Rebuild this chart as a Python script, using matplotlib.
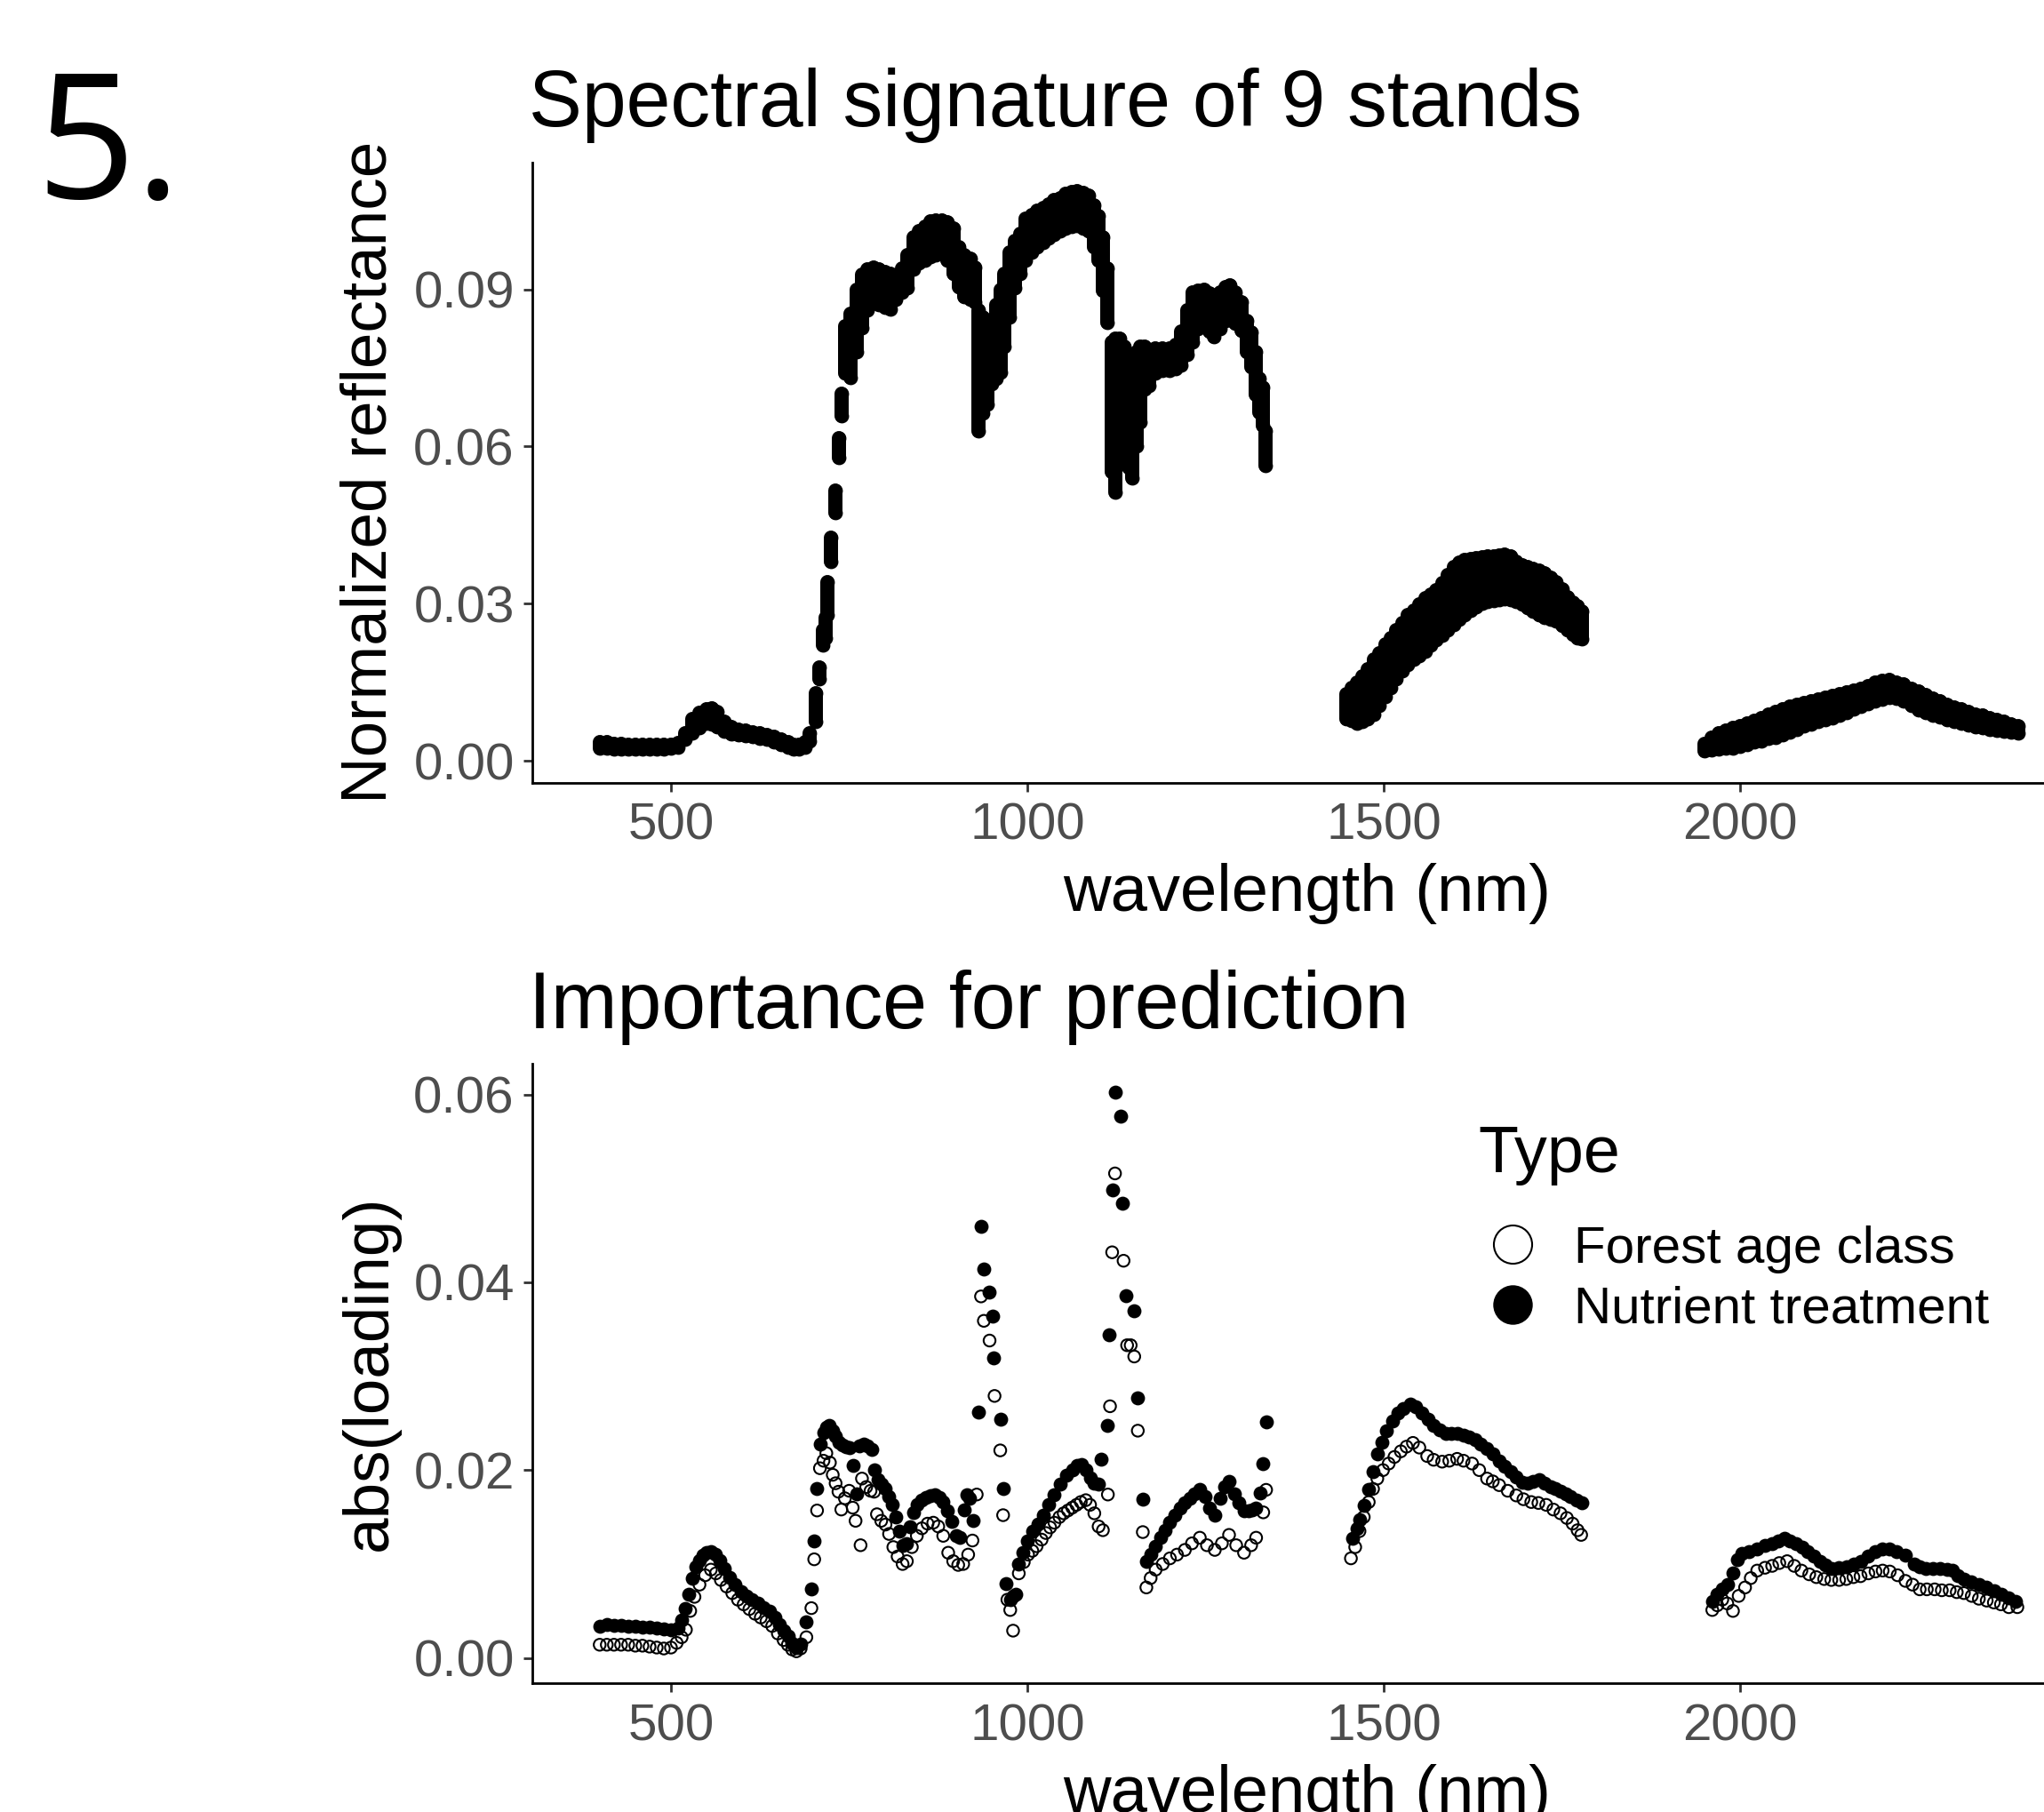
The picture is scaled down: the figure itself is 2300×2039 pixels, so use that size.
import matplotlib
matplotlib.use("Agg")
import matplotlib.pyplot as plt
from matplotlib.lines import Line2D

plt.rcParams['font.family'] = ['Liberation Sans', 'DejaVu Sans']

W, H = 2300, 2039

# ---------------------------------------------------------------------------
# Top panel: reflectance range (min / max over the 9 stands) per band
# ---------------------------------------------------------------------------
refl_wl_vnir = [400, 410, 420, 430, 440, 450, 460, 470, 480, 490,
                500, 510, 520, 530, 540, 550, 557, 565, 575, 585,
                595, 605, 615, 625, 635, 645, 655, 665, 672, 680,
                688, 695, 703, 708, 713, 717, 720, 724, 731, 736,
                739, 745, 752, 760, 768, 776, 784, 792, 800, 808,
                816, 824, 832, 840, 848, 856, 864, 872, 880, 888,
                896, 904, 912, 920, 926, 932, 938, 944, 950, 956,
                962, 968, 975, 982, 990, 998, 1006, 1014, 1022, 1030,
                1038, 1046, 1054, 1062, 1070, 1078, 1086, 1094, 1100, 1106,
                1112, 1118, 1124, 1130, 1136, 1142, 1147, 1153, 1158, 1164,
                1171, 1180, 1190, 1200, 1208, 1216, 1224, 1232, 1240, 1248,
                1256, 1262, 1270, 1278, 1284, 1292, 1300, 1308, 1314, 1320,
                1326, 1330, 1334]
refl_hi_vnir = [.0036, .0035, .0033, .0032, .0031, .0031, .0030, .0030, .0030, .0030,
                .0031, .0034, .0052, .0080, .0092, .0098, .0100, .0094, .0075, .0064,
                .0060, .0058, .0055, .0052, .0050, .0046, .0040, .0035, .0031, .0030,
                .0036, .0052, .0129, .0178, .0250, .0273, .0341, .0426, .0516, .0616,
                .0701, .0830, .0853, .0900, .0929, .0938, .0941, .0938, .0934, .0930,
                .0918, .0940, .0965, .0999, .1012, .1020, .1030, .1032, .1031, .1028,
                .1017, .0980, .0965, .0958, .0941, .0860, .0847, .0830, .0840, .0870,
                .0900, .0930, .0970, .0993, .1006, .1035, .1042, .1050, .1056, .1062,
                .1070, .1075, .1082, .1086, .1087, .1084, .1080, .1060, .1040, .1000,
                .0940, .0800, .0806, .0806, .0790, .0775, .0765, .0780, .0790, .0790,
                .0783, .0788, .0788, .0788, .0795, .0820, .0860, .0894, .0898, .0900,
                .0892, .0888, .0895, .0905, .0908, .0895, .0876, .0840, .0818, .0780,
                .0730, .0712, .0630]
refl_lo_vnir = [.0024, .0023, .0022, .0022, .0022, .0022, .0022, .0022, .0022, .0022,
                .0023, .0026, .0040, .0052, .0063, .0071, .0070, .0064, .0056, .0051,
                .0049, .0047, .0046, .0043, .0040, .0036, .0031, .0026, .0022, .0022,
                .0026, .0038, .0075, .0156, .0221, .0235, .0278, .0380, .0473, .0579,
                .0658, .0740, .0731, .0780, .0827, .0860, .0874, .0870, .0865, .0862,
                .0880, .0895, .0903, .0938, .0950, .0955, .0962, .0966, .0967, .0955,
                .0930, .0905, .0885, .0880, .0875, .0630, .0663, .0680, .0720, .0730,
                .0741, .0790, .0846, .0903, .0930, .0955, .0970, .0980, .0990, .0998,
                .1005, .1011, .1016, .1020, .1021, .1017, .1012, .0980, .0955, .0897,
                .0837, .0552, .0512, .0600, .0634, .0560, .0540, .0600, .0646, .0710,
                .0716, .0740, .0745, .0745, .0748, .0755, .0775, .0800, .0825, .0839,
                .0820, .0809, .0825, .0840, .0842, .0835, .0821, .0780, .0751, .0700,
                .0665, .0640, .0564]

refl_wl_swir1 = [1447, 1455, 1462, 1470, 1478, 1486, 1494, 1502, 1510, 1518,
                 1526, 1534, 1542, 1550, 1558, 1566, 1574, 1582, 1590, 1598,
                 1606, 1614, 1622, 1630, 1638, 1646, 1654, 1662, 1670, 1678,
                 1686, 1694, 1702, 1710, 1718, 1726, 1734, 1742, 1750, 1758,
                 1766, 1772, 1778]
refl_hi_swir1 = [.0128, .0140, .0150, .0162, .0175, .0193, .0205, .0222, .0235, .0250,
                 .0263, .0278, .0287, .0298, .0310, .0318, .0325, .0340, .0355, .0370,
                 .0378, .0383, .0386, .0387, .0389, .0390, .0391, .0392, .0393, .0390,
                 .0380, .0373, .0370, .0367, .0364, .0358, .0350, .0341, .0328, .0313,
                 .0302, .0296, .0285]
refl_lo_swir1 = [.0080, .0076, .0072, .0075, .0080, .0088, .0105, .0122, .0140, .0157,
                 .0171, .0183, .0194, .0201, .0208, .0220, .0230, .0239, .0250, .0260,
                 .0270, .0279, .0286, .0293, .0300, .0304, .0306, .0308, .0309, .0308,
                 .0304, .0299, .0292, .0285, .0278, .0274, .0270, .0266, .0258, .0250,
                 .0241, .0234, .0233]

refl_wl_swir2 = [1950, 1960, 1970, 1980, 1990, 2000, 2010, 2020, 2030, 2040,
                 2050, 2060, 2070, 2080, 2090, 2100, 2110, 2120, 2130, 2140,
                 2150, 2160, 2170, 2180, 2190, 2200, 2210, 2220, 2230, 2240,
                 2250, 2260, 2270, 2280, 2290, 2300, 2310, 2320, 2330, 2340,
                 2350, 2360, 2370, 2380, 2390]
refl_hi_swir2 = [.0033, .0045, .0052, .0058, .0062, .0066, .0071, .0076, .0082, .0089,
                 .0094, .0099, .0103, .0107, .0110, .0113, .0117, .0121, .0124, .0128,
                 .0131, .0134, .0138, .0143, .0149, .0152, .0155, .0150, .0146, .0138,
                 .0132, .0125, .0118, .0113, .0107, .0102, .0098, .0094, .0089, .0086,
                 .0082, .0078, .0074, .0070, .0067]
refl_lo_swir2 = [.0018, .0020, .0022, .0023, .0024, .0028, .0031, .0035, .0038, .0042,
                 .0045, .0050, .0055, .0060, .0066, .0070, .0074, .0078, .0081, .0086,
                 .0092, .0098, .0103, .0108, .0114, .0117, .0120, .0118, .0114, .0105,
                 .0097, .0092, .0086, .0083, .0078, .0075, .0072, .0068, .0064, .0062,
                 .0060, .0058, .0056, .0054, .0052]

# ---------------------------------------------------------------------------
# Bottom panel: abs(loading) per band for the two models
# ---------------------------------------------------------------------------
nut_wl = [400, 410, 420, 430, 440, 450, 460, 470, 480, 490,
          500, 510, 515, 520, 525, 530, 535, 540, 545, 550,
          556, 562, 568, 575, 582, 590, 598, 606, 614, 622,
          630, 639, 646, 652, 658, 664, 670, 676, 682, 689,
          697, 701, 705, 709, 714, 718, 722, 727, 731, 736,
          741, 746, 751, 756, 760, 764, 770, 776, 782, 786,
          790, 795, 800, 805, 810, 815, 820, 826, 831, 836,
          840, 846, 852, 858, 864, 870, 876, 882, 888, 894,
          900, 905, 911, 915, 919, 924, 931, 935, 939, 947,
          951, 953, 962, 966, 970, 976, 980, 984, 988, 994,
          1000, 1008, 1015, 1022, 1030, 1038, 1046, 1055, 1063, 1070,
          1076, 1082, 1088, 1094, 1100, 1103, 1112, 1115, 1120, 1123,
          1131, 1133, 1138, 1149, 1155, 1162, 1167, 1173, 1180, 1187,
          1193, 1200, 1207, 1214, 1221, 1228, 1235, 1242, 1249, 1256,
          1263, 1270, 1277, 1283, 1290, 1297, 1304, 1310, 1316, 1321,
          1327, 1330, 1335, 1456, 1462, 1466, 1472, 1479, 1485, 1491,
          1498, 1504, 1512, 1520, 1528, 1537, 1545, 1554, 1562, 1570,
          1578, 1587, 1595, 1603, 1612, 1620, 1628, 1636, 1645, 1653,
          1662, 1670, 1678, 1686, 1694, 1702, 1710, 1718, 1726, 1734,
          1741, 1748, 1755, 1762, 1770, 1778, 1961, 1968, 1975, 1982,
          1990, 1996, 2003, 2012, 2024, 2035, 2045, 2053, 2062, 2070,
          2078, 2087, 2095, 2103, 2112, 2120, 2128, 2138, 2149, 2159,
          2169, 2180, 2190, 2200, 2210, 2220, 2232, 2244, 2252, 2261,
          2271, 2281, 2290, 2298, 2306, 2314, 2324, 2335, 2345, 2356,
          2366, 2377, 2386]
nut_load = [.0034, .0036, .0035, .0035, .0034, .0034, .0033, .0033, .0032, .0031,
            .0030, .0032, .0040, .0053, .0068, .0085, .0097, .0104, .0109, .0112,
            .0113, .0110, .0104, .0095, .0086, .0078, .0071, .0066, .0062, .0058,
            .0054, .0050, .0043, .0036, .0029, .0023, .0016, .0011, .0015, .0038,
            .0073, .0125, .0180, .0228, .0240, .0246, .0248, .0242, .0236, .0230,
            .0227, .0225, .0224, .0205, .0175, .0226, .0228, .0226, .0222, .0200,
            .0190, .0185, .0180, .0172, .0163, .0150, .0135, .0120, .0122, .0140,
            .0155, .0163, .0168, .0171, .0173, .0174, .0171, .0166, .0157, .0145,
            .0130, .0128, .0158, .0174, .0170, .0146, .0262, .0460, .0414, .0390,
            .0364, .0320, .0254, .0180, .0079, .0062, .0066, .0068, .0100, .0112,
            .0125, .0135, .0143, .0152, .0163, .0174, .0185, .0195, .0200, .0205,
            .0206, .0200, .0192, .0186, .0185, .0212, .0248, .0344, .0498, .0603,
            .0577, .0484, .0386, .0370, .0277, .0169, .0103, .0110, .0119, .0128,
            .0136, .0144, .0152, .0160, .0165, .0170, .0175, .0179, .0172, .0160,
            .0152, .0170, .0182, .0188, .0175, .0165, .0157, .0157, .0158, .0160,
            .0176, .0207, .0251, .0127, .0138, .0147, .0162, .0179, .0198, .0217,
            .0230, .0242, .0252, .0261, .0266, .0270, .0267, .0261, .0254, .0248,
            .0243, .0239, .0239, .0239, .0237, .0235, .0232, .0228, .0223, .0217,
            .0210, .0204, .0198, .0193, .0187, .0186, .0188, .0190, .0186, .0182,
            .0180, .0178, .0175, .0172, .0168, .0165, .0060, .0068, .0073, .0078,
            .0090, .0105, .0111, .0113, .0116, .0120, .0122, .0125, .0127, .0125,
            .0122, .0118, .0113, .0108, .0103, .0099, .0095, .0096, .0097, .0100,
            .0103, .0108, .0113, .0116, .0116, .0113, .0109, .0100, .0097, .0095,
            .0095, .0095, .0094, .0093, .0088, .0084, .0081, .0078, .0075, .0072,
            .0068, .0064, .0060]

age_wl = [400, 410, 420, 430, 440, 450, 460, 470, 480, 490,
          500, 508, 515, 521, 527, 533, 540, 548, 556, 563,
          570, 578, 586, 594, 602, 610, 618, 626, 634, 642,
          650, 658, 664, 670, 676, 682, 690, 697, 701, 705,
          709, 714, 718, 723, 727, 731, 735, 739, 744, 750,
          755, 759, 766, 768, 774, 780, 785, 789, 795, 801,
          806, 812, 818, 825, 831, 838, 845, 852, 860, 868,
          875, 882, 889, 896, 903, 910, 917, 923, 929, 935,
          939, 947, 954, 962, 966, 972, 976, 980, 988, 995,
          1001, 1007, 1013, 1020, 1026, 1032, 1038, 1045, 1051, 1057,
          1063, 1069, 1075, 1082, 1088, 1094, 1100, 1106, 1113, 1116,
          1119, 1123, 1135, 1140, 1145, 1150, 1155, 1162, 1167, 1173,
          1180, 1190, 1200, 1210, 1221, 1231, 1242, 1252, 1263, 1273,
          1283, 1293, 1304, 1314, 1321, 1331, 1335, 1454, 1460, 1466,
          1472, 1479, 1485, 1491, 1499, 1507, 1515, 1524, 1532, 1541,
          1550, 1561, 1570, 1582, 1592, 1603, 1612, 1624, 1634, 1645,
          1653, 1662, 1674, 1686, 1696, 1707, 1717, 1728, 1738, 1748,
          1757, 1765, 1772, 1777, 1961, 1968, 1975, 1982, 1990, 1998,
          2007, 2015, 2024, 2035, 2045, 2055, 2066, 2076, 2086, 2097,
          2107, 2118, 2128, 2139, 2149, 2159, 2169, 2180, 2190, 2200,
          2210, 2221, 2232, 2242, 2252, 2262, 2273, 2283, 2294, 2304,
          2314, 2325, 2335, 2346, 2356, 2366, 2377, 2389]
age_load = [.0014, .0014, .0014, .0014, .0014, .0013, .0013, .0012, .0011, .0010,
            .0011, .0016, .0022, .0030, .0050, .0065, .0078, .0088, .0094, .0090,
            .0083, .0076, .0069, .0062, .0057, .0052, .0047, .0043, .0039, .0034,
            .0026, .0019, .0014, .0009, .0007, .0010, .0022, .0053, .0105, .0157,
            .0202, .0210, .0218, .0208, .0195, .0186, .0177, .0158, .0170, .0178,
            .0160, .0146, .0120, .0191, .0182, .0178, .0177, .0153, .0146, .0142,
            .0132, .0118, .0108, .0100, .0103, .0118, .0130, .0138, .0143, .0144,
            .0140, .0130, .0112, .0103, .0099, .0100, .0110, .0125, .0174, .0385,
            .0359, .0338, .0279, .0221, .0152, .0062, .0051, .0029, .0090, .0102,
            .0110, .0114, .0119, .0126, .0133, .0139, .0144, .0150, .0154, .0157,
            .0160, .0163, .0166, .0168, .0163, .0154, .0140, .0136, .0174, .0268,
            .0432, .0516, .0423, .0333, .0333, .0321, .0242, .0134, .0075, .0085,
            .0094, .0100, .0106, .0110, .0115, .0122, .0128, .0120, .0115, .0122,
            .0131, .0120, .0112, .0120, .0128, .0155, .0179, .0106, .0118, .0135,
            .0150, .0166, .0180, .0191, .0200, .0207, .0214, .0220, .0225, .0229,
            .0224, .0215, .0211, .0209, .0210, .0212, .0210, .0207, .0200, .0191,
            .0188, .0184, .0178, .0173, .0169, .0166, .0165, .0163, .0158, .0154,
            .0149, .0143, .0136, .0131, .0051, .0056, .0062, .0058, .0050, .0066,
            .0075, .0085, .0093, .0096, .0098, .0101, .0103, .0098, .0093, .0089,
            .0086, .0084, .0083, .0083, .0084, .0086, .0087, .0090, .0092, .0093,
            .0092, .0088, .0082, .0078, .0073, .0073, .0073, .0072, .0072, .0070,
            .0069, .0066, .0063, .0061, .0059, .0057, .0054, .0054]

type_labels = ["Forest age class", "Nutrient treatment"]
x_ticks = [500, 1000, 1500, 2000]
refl_ticks = [0.00, 0.03, 0.06, 0.09]
load_ticks = [0.00, 0.02, 0.04, 0.06]

# ---------------------------------------------------------------------------
def fx(px):
    return px / W


def fy(py):
    return 1 - py / H


fig = plt.figure(figsize=(W / 100, H / 100), dpi=100)
fig.patch.set_facecolor("white")

ax_left, ax_right = 599, 2343
ax1 = fig.add_axes([fx(ax_left), fy(880.6), (ax_right - ax_left) / W, (880.6 - 182.5) / H])
ax2 = fig.add_axes([fx(ax_left), fy(1894), (ax_right - ax_left) / W, (1894 - 1196.5) / H])

DOT = 130     # filled point size (pt^2)
BAND_LW = 11.5  # width of a stand range column, same as dot diameter

# top panel: one column of dots per band spanning the 9 stands
for wl, lo, hi in [(refl_wl_vnir, refl_lo_vnir, refl_hi_vnir),
                   (refl_wl_swir1, refl_lo_swir1, refl_hi_swir1),
                   (refl_wl_swir2, refl_lo_swir2, refl_hi_swir2)]:
    ax1.vlines(wl, lo, hi, colors="black", linewidth=BAND_LW, capstyle="round")
    ax1.scatter(wl, lo, s=DOT, color="black", linewidths=0)
    ax1.scatter(wl, hi, s=DOT, color="black", linewidths=0)

# bottom panel
ax2.scatter(nut_wl, nut_load, s=DOT, color="black", linewidths=0, zorder=2)
ax2.scatter(age_wl, age_load, s=92, facecolors="none", edgecolors="black",
            linewidths=1.5, zorder=3)

for ax, yt, ylim in [(ax1, refl_ticks, (-0.00417, 0.11429)),
                     (ax2, load_ticks, (-0.00269, 0.06333))]:
    ax.set_xlim(305.5, 2480)
    ax.set_ylim(*ylim)
    ax.set_xticks(x_ticks)
    ax.set_xticklabels([str(t) for t in x_ticks])
    ax.set_yticks(yt)
    ax.set_yticklabels(["%.2f" % t for t in yt])
    for s in ["top", "right"]:
        ax.spines[s].set_visible(False)
    for s in ["left", "bottom"]:
        ax.spines[s].set_linewidth(2.0)
        ax.spines[s].set_color("black")
    ax.tick_params(axis="both", length=7, width=2, color="#333333",
                   labelsize=42, labelcolor="#4D4D4D")
    ax.tick_params(axis="y", pad=7.5)
    ax.tick_params(axis="x", pad=9)
    ax.set_facecolor("none")

# titles and axis titles
fig.text(fx(595), fy(142), "Spectral signature of 9 stands", fontsize=64.5,
         ha="left", va="baseline")
fig.text(fx(595), fy(1157), "Importance for prediction", fontsize=64.5,
         ha="left", va="baseline")
fig.text(fx(1471), fy(1005), "wavelength (nm)", fontsize=53.5, ha="center", va="center")
fig.text(fx(1471), fy(2019), "wavelength (nm)", fontsize=53.5, ha="center", va="center")
fig.text(fx(416), fy(531.5), "Normalized reflectance", fontsize=52.5, rotation=90,
         ha="center", va="center")
fig.text(fx(416), fy(1545), "abs(loading)", fontsize=52.5, rotation=90,
         ha="center", va="center")

# panel number
fig.text(fx(40), fy(223), "5.", fontsize=141, family="Open Sans",
         ha="left", va="baseline")

# legend
h_age = Line2D([], [], ls="", marker="o", ms=31, mfc="none", mec="black", mew=1.5)
h_nut = Line2D([], [], ls="", marker="o", ms=32, mfc="black", mec="black", mew=0)
leg = ax2.legend([h_age, h_nut], type_labels, title="Type", loc="upper left",
                 bbox_to_anchor=(fx(1663), fy(1265)), bbox_transform=fig.transFigure,
                 frameon=False, fontsize=42, title_fontsize=53,
                 handlelength=1.32, handletextpad=0.535, labelspacing=0.24,
                 borderpad=0, borderaxespad=0, alignment="left")
# wider gap between the legend title and its entries (points)
leg._legend_box.sep = 0.24 * 42 + 22

fig.savefig("out.png", dpi=100)
